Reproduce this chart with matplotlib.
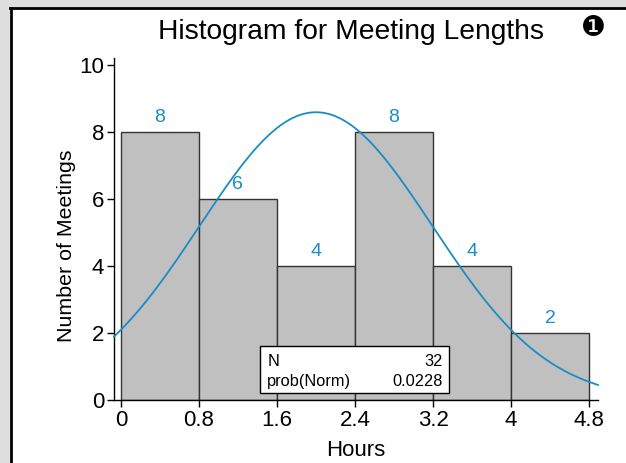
import numpy as np
import matplotlib.pyplot as plt
from matplotlib.patches import Rectangle

plt.rcParams['font.family'] = ['Liberation Sans', 'DejaVu Sans']

# --- datos del histograma ---
bordes = [0, 0.8, 1.6, 2.4, 3.2, 4.0, 4.8]
conteos = [8, 6, 4, 8, 4, 2]
n_total = 32
prob_norm = 0.0228
media = 2.0
desv = 1.19

AZUL = '#1a8cc6'

fig = plt.figure(figsize=(6.26, 4.63), dpi=100)
fig.patch.set_facecolor('#dedede')

# panel blanco con borde negro arriba y a la izquierda
fig.patches.append(Rectangle((10 / 626, 0), 1, 1 - 8 / 463, transform=fig.transFigure,
                             facecolor='white', edgecolor='none', zorder=-5))
fig.add_artist(plt.Line2D([11 / 626, 11 / 626], [0, 1 - 8 / 463], color='black', lw=2,
                          transform=fig.transFigure))
fig.add_artist(plt.Line2D([10 / 626, 1], [1 - 8 / 463, 1 - 8 / 463], color='black', lw=2,
                          transform=fig.transFigure))

ax = fig.add_axes([114 / 626, 63 / 463, 484 / 626, 342 / 463])
ax.set_facecolor('none')

anchos = np.diff(bordes)
ax.bar(bordes[:-1], conteos, width=anchos, align='edge', color='#c0c0c0',
       edgecolor='#333333', linewidth=1.0, zorder=2)

for x0, w, c in zip(bordes[:-1], anchos, conteos):
    ax.text(x0 + w / 2, c + 0.43, str(c), ha='center', va='center',
            color=AZUL, fontsize=14, zorder=4)

# curva normal escalada al histograma
xlim = (-0.07, 4.89)
xs = np.linspace(xlim[0], xlim[1], 300)
ys = n_total * 0.8 / (desv * np.sqrt(2 * np.pi)) * np.exp(-(xs - media) ** 2 / (2 * desv ** 2))
ax.plot(xs, ys, color=AZUL, lw=1.3, zorder=3, clip_on=False)

ax.set_xlim(*xlim)
ax.set_ylim(0, 10.2)
ax.set_xticks(bordes)
ax.set_xticklabels(['0', '0.8', '1.6', '2.4', '3.2', '4', '4.8'])
ax.set_yticks([0, 2, 4, 6, 8, 10])
ax.tick_params(labelsize=16, length=5, width=1, pad=2)
for lado in ['top', 'right']:
    ax.spines[lado].set_visible(False)
for lado in ['left', 'bottom']:
    ax.spines[lado].set_linewidth(1)

ax.set_xlabel('Hours', fontsize=16, labelpad=7)
ax.set_ylabel('Number of Meetings', fontsize=15.4)
ax.yaxis.set_label_coords(-0.078, 0.452)

# recuadro con estadisticas
caja = Rectangle((1.426, 0.22), 1.94, 1.39, facecolor='white', edgecolor='black',
                 lw=1, zorder=5)
ax.add_patch(caja)
ax.text(1.50, 1.14, 'N', fontsize=11.8, va='center', ha='left', zorder=6)
ax.text(3.30, 1.14, str(n_total), fontsize=11.8, va='center', ha='right', zorder=6)
ax.text(1.50, 0.55, 'prob(Norm)', fontsize=11.8, va='center', ha='left', zorder=6)
ax.text(3.30, 0.55, f'{prob_norm}', fontsize=11.8, va='center', ha='right', zorder=6)

fig.text(351 / 626, 1 - 32 / 463, 'Histogram for Meeting Lengths', fontsize=20.3,
         ha='center', va='center')
fig.text(593 / 626, 1 - 28 / 463, '\u2776', fontsize=20, ha='center', va='center',
         family='DejaVu Sans')

fig.savefig('out.png', dpi=100)
